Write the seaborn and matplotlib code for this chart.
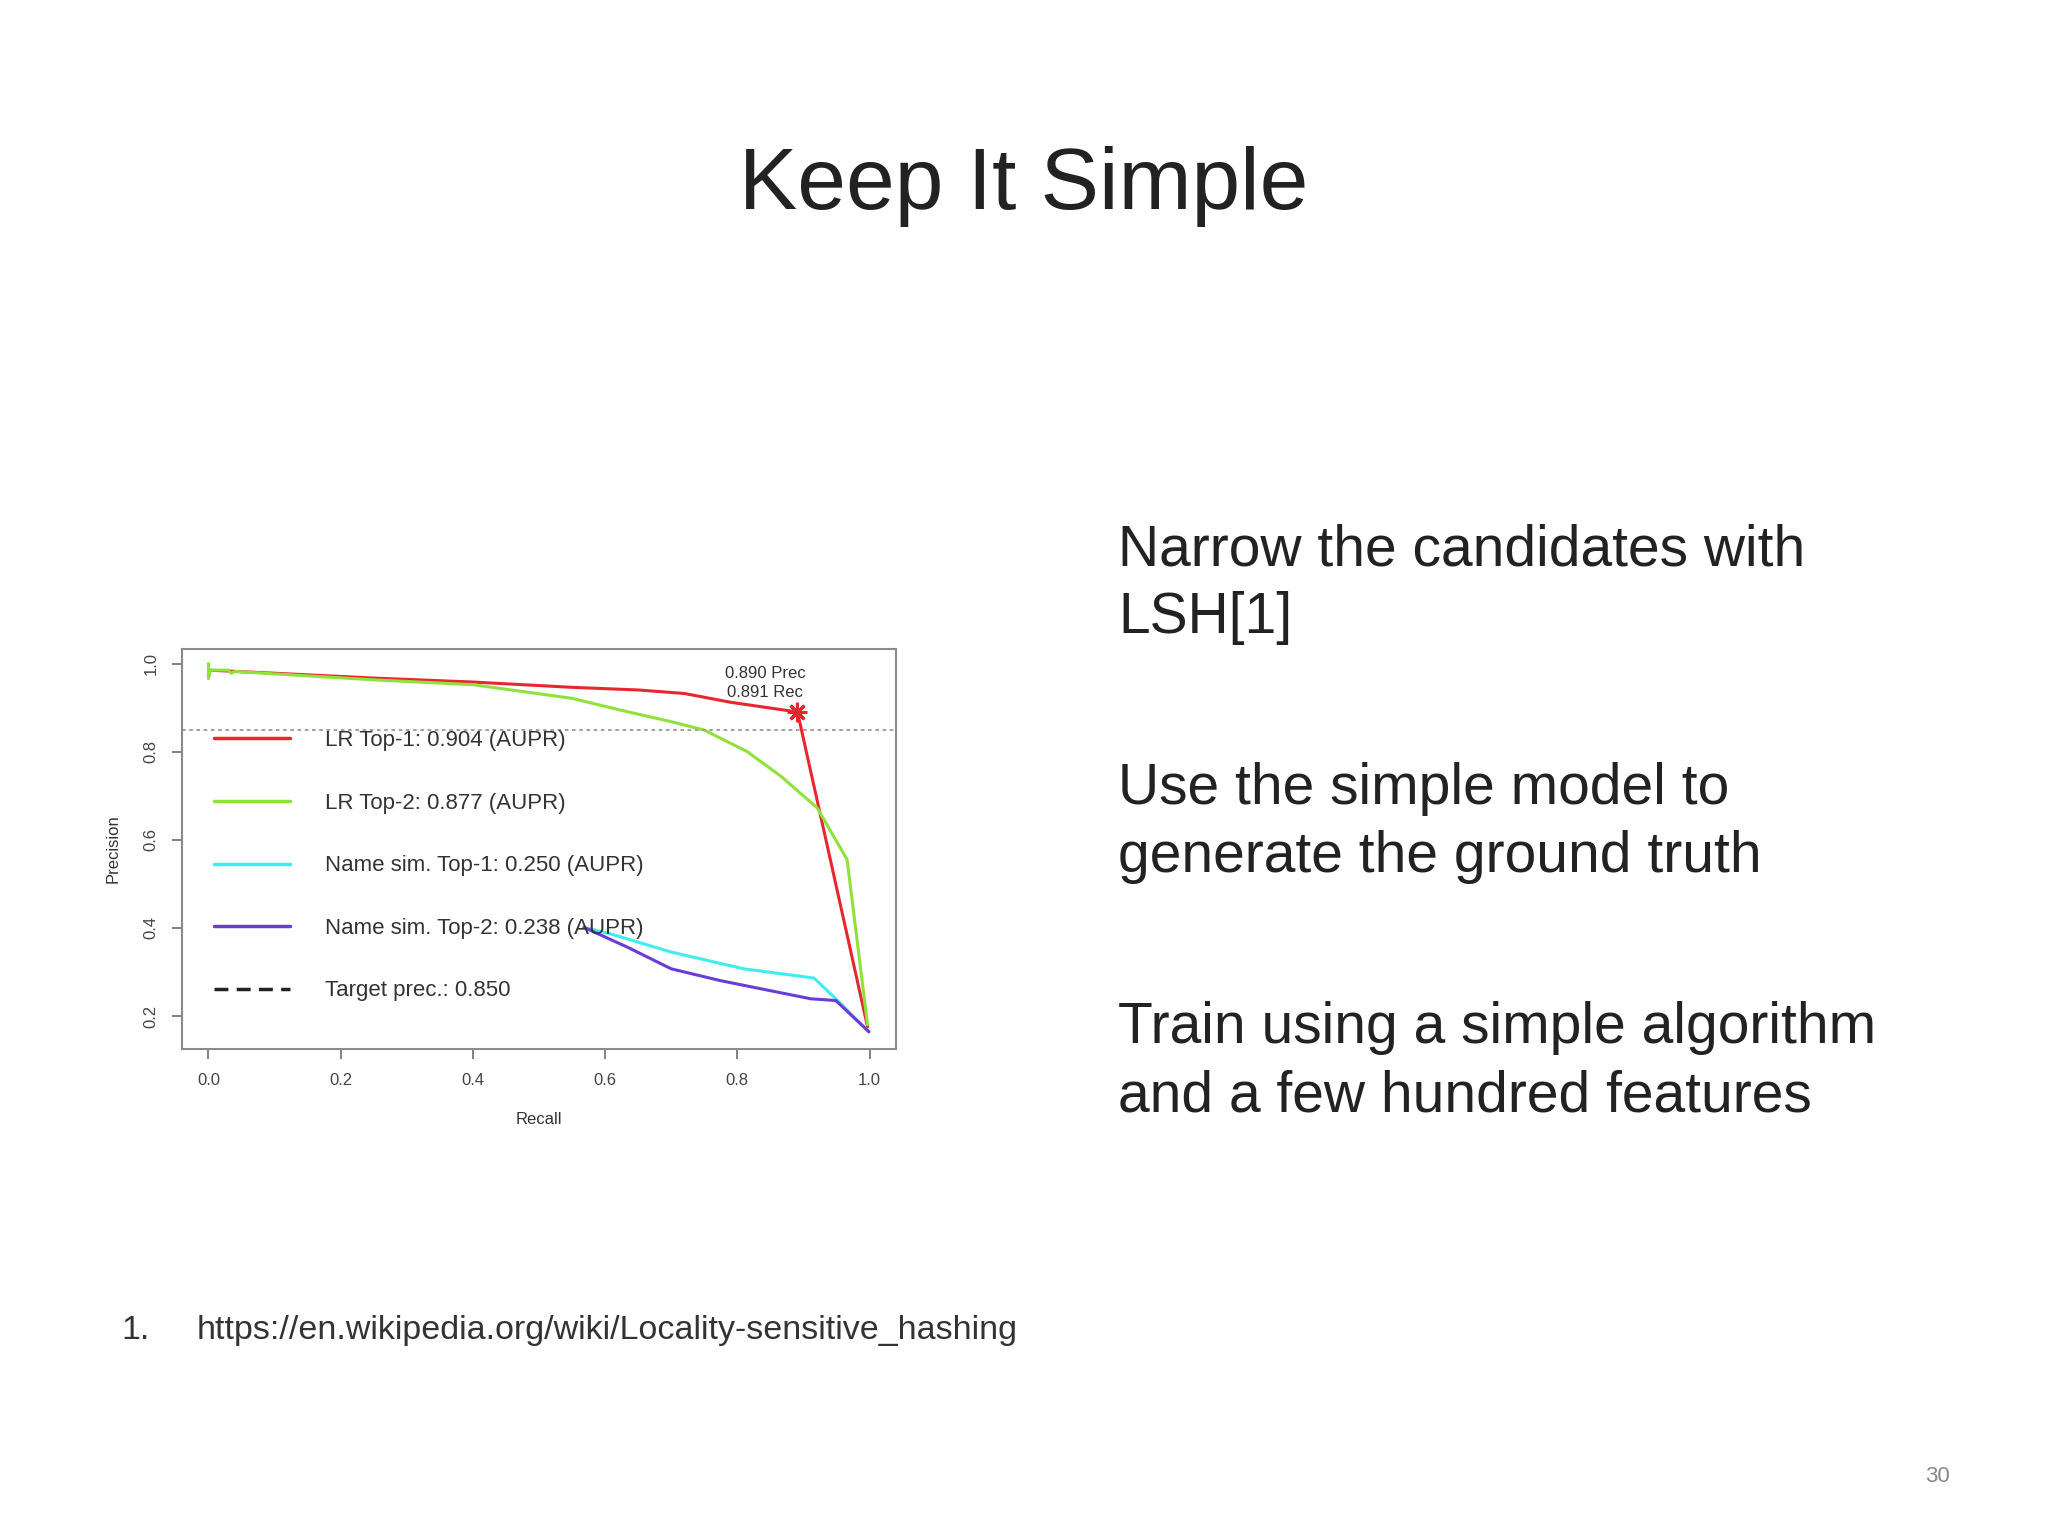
import seaborn as sns
import matplotlib.pyplot as plt
from matplotlib.lines import Line2D

# precision / recall curves
lr1_recall = [0.0, 0.10, 0.25, 0.40, 0.55, 0.65, 0.72, 0.79, 0.891, 0.997]
lr1_precision = [0.985, 0.978, 0.967, 0.958, 0.946, 0.940, 0.932, 0.912, 0.890, 0.175]

lr2_recall = [0.0, 0.0, 0.003, 0.03, 0.034, 0.04, 0.25, 0.40, 0.55, 0.624,
              0.70, 0.75, 0.815, 0.866, 0.921, 0.966, 0.997]
lr2_precision = [1.0, 0.966, 0.985, 0.985, 0.978, 0.982, 0.963, 0.952, 0.921,
                 0.894, 0.868, 0.849, 0.800, 0.744, 0.672, 0.555, 0.180]

name1_recall = [0.568, 0.609, 0.70, 0.81, 0.916, 0.949, 0.999]
name1_precision = [0.401, 0.386, 0.345, 0.307, 0.286, 0.239, 0.164]

name2_recall = [0.568, 0.634, 0.70, 0.775, 0.911, 0.949, 0.999]
name2_precision = [0.401, 0.356, 0.307, 0.280, 0.239, 0.235, 0.164]

target_prec = 0.850
best_recall = 0.891
best_prec = 0.890

legend_labels = ['LR Top-1: 0.904 (AUPR)', 'LR Top-2: 0.877 (AUPR)',
                 'Name sim. Top-1: 0.250 (AUPR)', 'Name sim. Top-2: 0.238 (AUPR)',
                 'Target prec.: 0.850']
curve_colors = ['#e8262e', '#8fe23c', '#40ecf0', '#6a3cd6']

x_ticks = [0.0, 0.2, 0.4, 0.6, 0.8, 1.0]
y_ticks = [0.2, 0.4, 0.6, 0.8, 1.0]

title = 'Keep It Simple'
bullet_lines = [['Narrow the candidates with', 'LSH[1]'],
                ['Use the simple model to', 'generate the ground truth'],
                ['Train using a simple algorithm', 'and a few hundred features']]
footnote_num = '1.'
footnote_url = 'https://en.wikipedia.org/wiki/Locality-sensitive_hashing'
page_number = '30'

sns.set_style('white')
plt.rcParams['font.family'] = ['Liberation Sans', 'DejaVu Sans']

W, H = 2048, 1536
fig = plt.figure(figsize=(W / 100, H / 100), dpi=100)

# chart box in pixels: left 182, right 896, top 649, bottom 1049
ax = fig.add_axes([182 / W, 1 - 1049 / H, (896 - 182) / W, (1049 - 649) / H])

series = [(lr1_recall, lr1_precision), (lr2_recall, lr2_precision),
          (name1_recall, name1_precision), (name2_recall, name2_precision)]
for (xs, ys), col in zip(series, curve_colors):
    sns.lineplot(x=xs, y=ys, sort=False, estimator=None, color=col,
                 linewidth=2.2, ax=ax, legend=False)

ax.axhline(target_prec, color='#9a9a9a', linestyle=(0, (2, 2)), linewidth=1.3)
ax.plot(best_recall, best_prec, marker=(8, 2, 0), markersize=14,
        markeredgecolor='#e8262e', markeredgewidth=2.2, linestyle='none')
ax.text(0.842, 0.955, f'{best_prec:.3f} Prec\n{best_recall:.3f} Rec',
        ha='center', va='center', fontsize=12, color='#333333', linespacing=1.35)

ax.set_xlim(-0.04, 1.04)
ax.set_ylim(0.125, 1.033)
ax.set_xticks(x_ticks)
ax.set_yticks(y_ticks)
ax.set_xticklabels([f'{t:.1f}' for t in x_ticks])
ax.set_yticklabels([f'{t:.1f}' for t in y_ticks], rotation=90, va='center')
ax.tick_params(axis='both', direction='out', length=7, width=1.3,
               color='#777777', labelsize=12, labelcolor='#444444', pad=10,
               left=True, bottom=True)
for s in ax.spines.values():
    s.set_color('#8a8a8a')
    s.set_linewidth(1.5)

ax.set_xlabel('Recall', fontsize=12, color='#333333')
ax.set_ylabel('Precision', fontsize=12, color='#333333')
ax.xaxis.set_label_coords(0.5, -0.177)
ax.yaxis.set_label_coords(-0.096, 0.5)
ax.xaxis.label.set_va('center')
ax.yaxis.label.set_va('center')

handles = [Line2D([], [], color=c, linewidth=2.5) for c in curve_colors]
handles.append(Line2D([], [], color='#222222', linewidth=2.5,
                      linestyle=(0, (4, 2.4))))
leg = ax.legend(handles, legend_labels, loc='upper left',
                bbox_to_anchor=(0.045, 0.797), frameon=False, fontsize=16,
                handlelength=3.4, handletextpad=1.6, labelspacing=1.87,
                borderpad=0, borderaxespad=0)
for t in leg.get_texts():
    t.set_color('#333333')

# slide text
fig.text(1024 / W, 1 - 209 / H, title, ha='center', va='baseline',
         fontsize=63, color='#222222')
baselines = [(565, 633), (804, 872), (1043, 1111)]
for lines, ys in zip(bullet_lines, baselines):
    for line, y in zip(lines, ys):
        fig.text(1118 / W, 1 - y / H, line, ha='left', va='baseline',
                 fontsize=41, color='#222222')
fig.text(121 / W, 1 - 1339 / H, footnote_num, ha='left', va='baseline',
         fontsize=24.5, color='#333333')
fig.text(197 / W, 1 - 1339 / H, footnote_url, ha='left', va='baseline',
         fontsize=24.5, color='#333333')
fig.text(1925 / W, 1 - 1482 / H, page_number, ha='left', va='baseline',
         fontsize=16, color='#888888')

fig.savefig('out.png', dpi=100)
